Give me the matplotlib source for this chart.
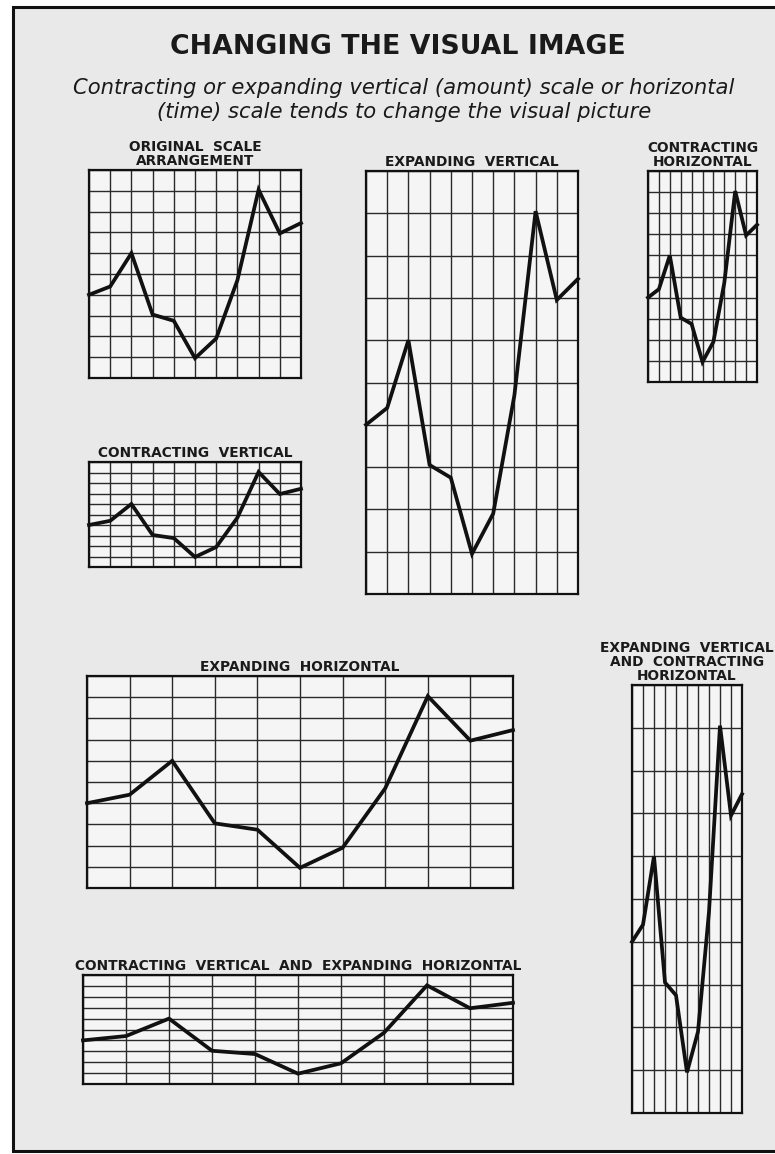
import matplotlib
matplotlib.use('Agg')
import matplotlib.pyplot as plt
from matplotlib.patches import Rectangle

W, H = 775, 1154

# one series, drawn in every panel (11 periods, 10 grid rows)
periods = list(range(11))
values = [4.0, 4.4, 6.0, 3.05, 2.75, 0.95, 1.9, 4.7, 9.05, 6.95, 7.45]

# panel titles
titles = [
    'ORIGINAL  SCALE\nARRANGEMENT',
    'EXPANDING  VERTICAL',
    'CONTRACTING\nHORIZONTAL',
    'CONTRACTING  VERTICAL',
    'EXPANDING  HORIZONTAL',
    'CONTRACTING  VERTICAL  AND  EXPANDING  HORIZONTAL',
    'EXPANDING  VERTICAL\nAND  CONTRACTING\nHORIZONTAL',
]
# panel boxes in pixels: left, top, right, bottom
boxes = [
    (89, 170, 301, 378),
    (366, 171, 578, 594),
    (648, 171, 757, 382),
    (89, 462, 301, 567),
    (87, 676, 513, 888),
    (83, 975, 513, 1084),
    (632, 685, 742, 1113),
]

fig = plt.figure(figsize=(W / 100, H / 100), dpi=100)
fig.patch.set_facecolor('white')

# page with its printed frame
page = Rectangle((13 / W, 1 - 1151 / H), (W + 5) / W, (1151 - 7) / H,
                 transform=fig.transFigure, facecolor='#e9e9e9',
                 edgecolor='#111111', linewidth=2.2, zorder=-5)
fig.patches.append(page)

fig.text(398 / W, 1 - 47 / H, 'CHANGING THE VISUAL IMAGE', ha='center', va='center',
         fontsize=19.3, fontweight='heavy', family='DejaVu Sans', color='#1a1a1a')
fig.text(404 / W, 1 - 100 / H,
         'Contracting or expanding vertical (amount) scale or horizontal\n'
         '(time) scale tends to change the visual picture',
         ha='center', va='center', fontsize=15.2, style='italic',
         family='DejaVu Sans', color='#1a1a1a', linespacing=1.22)


def panel(box, title):
    x0, y0, x1, y1 = box
    ax = fig.add_axes([x0 / W, 1 - y1 / H, (x1 - x0) / W, (y1 - y0) / H])
    ax.set_zorder(2)
    ax.set_facecolor('#f5f5f5')
    ax.set_xlim(0, 10)
    ax.set_ylim(0, 10)
    ax.set_xticks(range(11))
    ax.set_yticks(range(11))
    ax.tick_params(length=0, labelbottom=False, labelleft=False)
    ax.grid(True, color='#2a2a2a', linewidth=1.0)
    for s in ax.spines.values():
        s.set_linewidth(1.6)
        s.set_color('#111111')
    ax.plot(periods, values, color='#111111', linewidth=2.7,
            solid_joinstyle='miter', clip_on=False, zorder=3)
    ax.set_title(title, fontsize=9.9, fontweight='bold', family='DejaVu Sans',
                 color='#1a1a1a', pad=3.5, linespacing=1.0)
    return ax


for b, t in zip(boxes, titles):
    panel(b, t)

fig.savefig('out.png', dpi=100)
